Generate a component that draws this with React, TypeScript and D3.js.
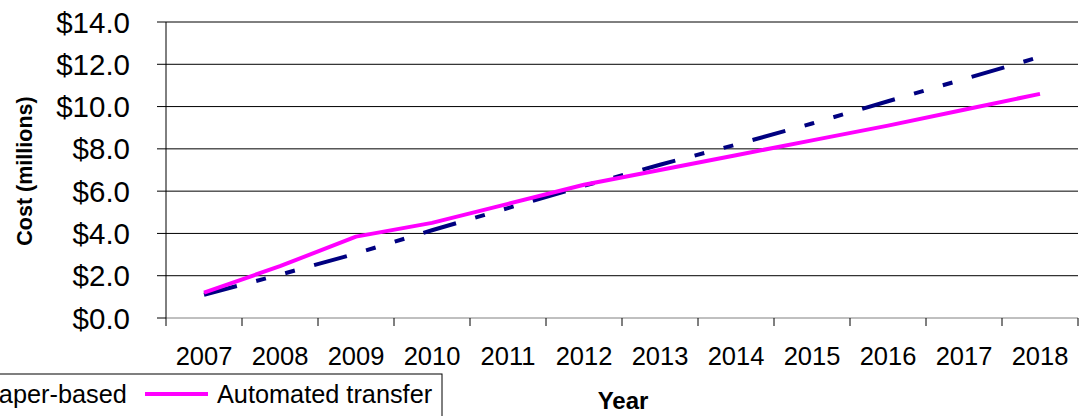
import React from 'react';
import * as d3 from 'd3';

const years = ['2007', '2008', '2009', '2010', '2011', '2012', '2013', '2014', '2015', '2016', '2017', '2018'];
const paperBased = [1.1, 2.05, 3.05, 4.15, 5.2, 6.25, 7.25, 8.2, 9.2, 10.25, 11.3, 12.35];
const automated = [1.2, 2.45, 3.85, 4.5, 5.4, 6.3, 7.0, 7.7, 8.4, 9.1, 9.85, 10.6];
const yTicks = [0, 2, 4, 6, 8, 10, 12, 14];

const W = 1080;
const H = 416;
const left = 166;
const right = 1078;
const top = 22;
const bottom = 318;
const font = '"Liberation Sans", Arial, sans-serif';

export default function App() {
  const x = d3.scaleBand<string>().domain(years).range([left, right]);
  const y = d3.scaleLinear().domain([0, 14]).range([bottom, top]);
  const line = d3
    .line<number>()
    .x((_, i) => (x(years[i]) as number) + x.bandwidth() / 2)
    .y((d) => y(d));

  const boundaries = years.map((yr) => x(yr) as number).concat([right]);

  return (
    <div style={{ position: 'absolute', left: 0, top: 0 }}>
      <svg width={W} height={H} style={{ display: 'block', fontFamily: font }}>
        <rect width={W} height={H} fill="#fff" />
        {/* gridlines */}
        {yTicks.map((t) => (
          <line key={t} x1={left} x2={right} y1={y(t)} y2={y(t)} stroke={t === 0 ? '#808080' : '#000'} strokeWidth={1} />
        ))}
        {/* y axis */}
        <line x1={left} x2={left} y1={top} y2={bottom} stroke="#000" />
        {yTicks.map((t) => (
          <g key={'yt' + t}>
            <line x1={left - 9} x2={left} y1={y(t)} y2={y(t)} stroke="#000" />
            <text x={130} y={y(t)} dy="0.36em" textAnchor="end" fontSize={29.5} fill="#000">
              {'$' + t.toFixed(1)}
            </text>
          </g>
        ))}
        {/* x axis ticks */}
        {boundaries.map((b, i) => (
          <line key={'xt' + i} x1={b} x2={b} y1={bottom} y2={bottom + 8} stroke="#000" />
        ))}
        {years.map((yr) => (
          <text key={yr} x={(x(yr) as number) + x.bandwidth() / 2} y={365} textAnchor="middle" fontSize={25.5} fill="#000">
            {yr}
          </text>
        ))}
        {/* lines */}
        <path d={line(paperBased) ?? ''} fill="none" stroke="#000080" strokeWidth={4} strokeDasharray="34 20 10 20 10 20" />
        <path d={line(automated) ?? ''} fill="none" stroke="#FF00FF" strokeWidth={4} strokeLinejoin="round" />
        {/* axis titles */}
        <text transform="translate(32,171) rotate(-90)" textAnchor="middle" fontSize={21.5} fontWeight="bold" fill="#000">
          Cost (millions)
        </text>
        <text x={623} y={409} textAnchor="middle" fontSize={24} fontWeight="bold" fill="#000">
          Year
        </text>
        {/* legend */}
        <rect x={-240} y={374} width={682} height={60} fill="#fff" stroke="#000" />
        <line x1={-103} x2={-40} y1={394} y2={394} stroke="#000080" strokeWidth={4} strokeDasharray="34 20 10 20" />
        <text x={-18} y={403} fontSize={25.3} fill="#000">Paper-based</text>
        <line x1={145} x2={208} y1={394} y2={394} stroke="#FF00FF" strokeWidth={4} />
        <text x={217} y={403} fontSize={25.3} fill="#000">Automated transfer</text>
      </svg>
    </div>
  );
}
